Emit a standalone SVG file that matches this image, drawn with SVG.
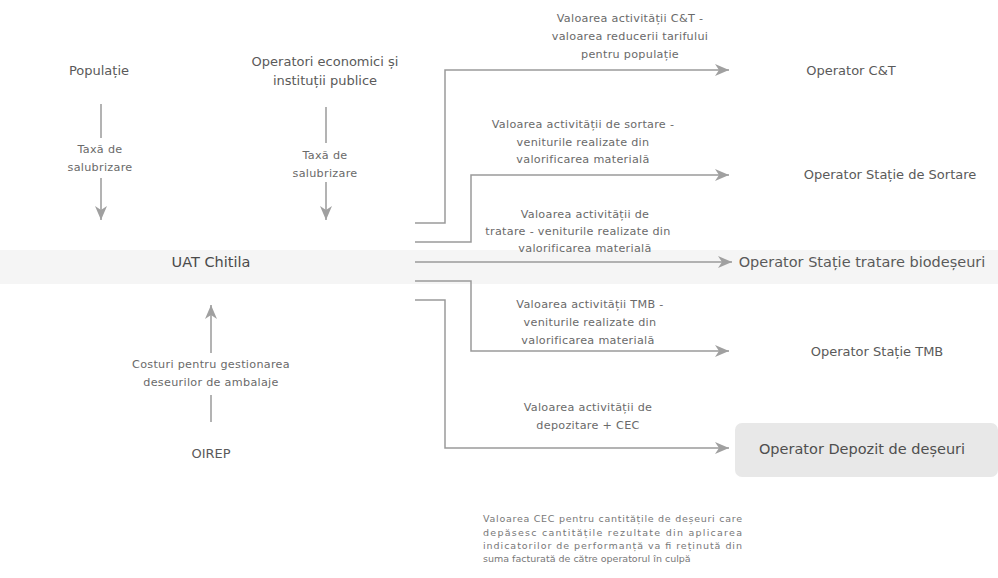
<svg xmlns="http://www.w3.org/2000/svg" width="998" height="578" viewBox="0 0 998 578">
<style>
.node{font-family:"DejaVu Sans",Verdana,sans-serif;font-size:13px;fill:#5a5a5a;text-anchor:middle}
.lbl{font-family:"DejaVu Sans",Verdana,sans-serif;font-size:11.2px;letter-spacing:0.3px;fill:#6a6a6a;text-anchor:middle}
.note{font-family:"DejaVu Sans",Verdana,sans-serif;font-size:9.5px;fill:#777}
.ln{fill:none;stroke:#9a9a9a;stroke-width:1.5}
</style>
<defs>
<marker id="ah" markerUnits="userSpaceOnUse" markerWidth="16" markerHeight="14" refX="14" refY="7" orient="auto">
<path d="M0,1 L14,7 L0,13 L4,7 z" fill="#a0a0a0"/>
</marker>
</defs>
<rect x="0" y="0" width="998" height="578" fill="#ffffff"/>
<rect x="0" y="250" width="998" height="34" fill="#f5f5f5"/>
<rect x="735" y="423" width="263" height="54" rx="7" fill="#e8e8e8"/>

<g id="connectors">
<path class="ln" d="M101,104 V138"/>
<path class="ln" d="M101,178 V220" marker-end="url(#ah)"/>
<path class="ln" d="M326,107 V143"/>
<path class="ln" d="M326,182 V220" marker-end="url(#ah)"/>
<path class="ln" d="M211,422 V395"/>
<path class="ln" d="M211,353 V305" marker-end="url(#ah)"/>
<path class="ln" d="M415,223 H445 V70 H729" marker-end="url(#ah)"/>
<path class="ln" d="M415,242 H471 V175 H729" marker-end="url(#ah)"/>
<path class="ln" d="M415,262 H732" marker-end="url(#ah)"/>
<path class="ln" d="M415,281 H471 V351 H729" marker-end="url(#ah)"/>
<path class="ln" d="M415,300 H445 V448 H729" marker-end="url(#ah)"/>
</g>

<g id="populatie"><text class="node" x="99" y="75">Populație</text></g>
<g id="operatori"><text class="node" x="325" y="66">Operatori economici și</text><text class="node" x="325" y="85">instituții publice</text></g>
<g id="uat"><text class="node" x="211" y="267" style="font-size:14.5px;fill:#4a4a4a">UAT Chitila</text></g>
<g id="oirep"><text class="node" x="211" y="458">OIREP</text></g>

<g id="op-ct"><text class="node" x="851" y="75">Operator C&amp;T</text></g>
<g id="op-sortare"><text class="node" x="890" y="179">Operator Stație de Sortare</text></g>
<g id="op-tratare"><text class="node" x="862" y="267" style="font-size:14.5px">Operator Stație tratare biodeșeuri</text></g>
<g id="op-tmb"><text class="node" x="877" y="356">Operator Stație TMB</text></g>
<g id="op-depozit"><text class="node" x="862" y="454" style="font-size:14.5px;fill:#4f4f4f">Operator Depozit de deșeuri</text></g>

<g id="labels">
<text class="lbl" x="100" y="153">Taxă de</text>
<text class="lbl" x="100" y="171">salubrizare</text>
<text class="lbl" x="325" y="159">Taxă de</text>
<text class="lbl" x="325" y="177">salubrizare</text>
<text class="lbl" x="211" y="368">Costuri pentru gestionarea</text>
<text class="lbl" x="211" y="386">deseurilor de ambalaje</text>
<text class="lbl" x="630" y="22">Valoarea activității C&amp;T -</text>
<text class="lbl" x="630" y="40">valoarea reducerii tarifului</text>
<text class="lbl" x="630" y="58">pentru populație</text>
<text class="lbl" x="583" y="128">Valoarea activității de sortare -</text>
<text class="lbl" x="583" y="146">veniturile realizate din</text>
<text class="lbl" x="583" y="163">valorificarea materială</text>
<text class="lbl" x="585" y="218">Valoarea activității de</text>
<text class="lbl" x="578" y="235">tratare - veniturile realizate din</text>
<text class="lbl" x="585" y="252">valorificarea materială</text>
<text class="lbl" x="590" y="308">Valoarea activității TMB -</text>
<text class="lbl" x="590" y="326">veniturile realizate din</text>
<text class="lbl" x="588" y="344">valorificarea materială</text>
<text class="lbl" x="588" y="411">Valoarea activității de</text>
<text class="lbl" x="588" y="429">depozitare + CEC</text>
</g>

<g id="nota">
<text class="note" x="483" y="522" textLength="259" lengthAdjust="spacing">Valoarea CEC pentru cantitățile de deșeuri care</text>
<text class="note" x="483" y="536" textLength="259" lengthAdjust="spacing">depăsesc cantitățile rezultate din aplicarea</text>
<text class="note" x="483" y="549" textLength="259" lengthAdjust="spacing">indicatorilor de performanță va fi reținută din</text>
<text class="note" x="483" y="562">suma facturată de către operatorul în culpă</text>
</g>
</svg>
